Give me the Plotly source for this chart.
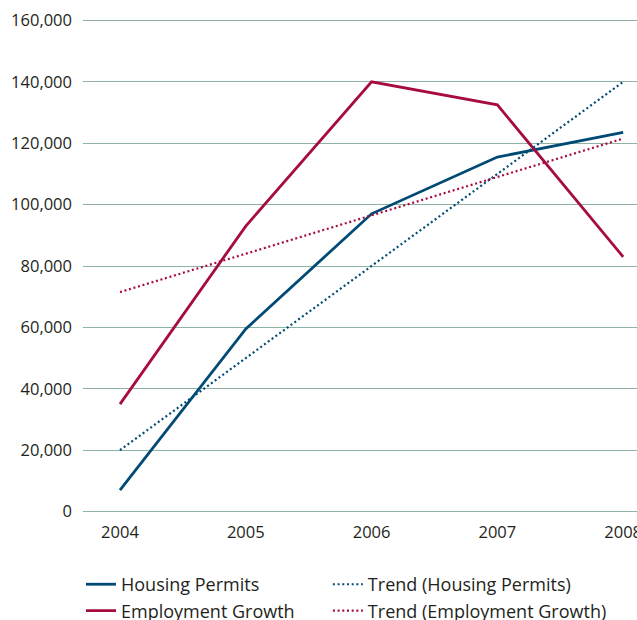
"""Housing permits vs employment growth, 2004-2008, with linear trends."""

import plotly.graph_objects as go

years = ["2004", "2005", "2006", "2007", "2008"]
housing_permits = [7000, 59500, 97000, 115500, 123500]
employment_growth = [35000, 93000, 140000, 132500, 83000]
trend_housing = [20000, 50000, 80000, 110000, 140000]
trend_employment = [71500, 84000, 96500, 109000, 121500]

BLUE = "#004A75"
RED = "#A70C3E"
GRID = "#8DB3A4"
TEXT = "#231F20"
DOTS = "2px,2.7px"

fig = go.Figure()
fig.add_trace(go.Scatter(x=years, y=housing_permits, mode="lines", name="Housing Permits",
                         line=dict(color=BLUE, width=2.8), legend="legend"))
fig.add_trace(go.Scatter(x=years, y=employment_growth, mode="lines", name="Employment Growth",
                         line=dict(color=RED, width=2.8), legend="legend"))
fig.add_trace(go.Scatter(x=years, y=trend_housing, mode="lines", name="Trend (Housing Permits)",
                         line=dict(color=BLUE, width=2.2, dash=DOTS), legend="legend2"))
fig.add_trace(go.Scatter(x=years, y=trend_employment, mode="lines", name="Trend (Employment Growth)",
                         line=dict(color=RED, width=2.2, dash=DOTS), legend="legend2"))

legend_style = dict(
    orientation="v",
    y=-0.1049,
    yanchor="top",
    xanchor="left",
    font=dict(size=18, color=TEXT),
    tracegroupgap=0,
    bgcolor="rgba(0,0,0,0)",
)

# figure is a bit taller than the window so the legend never pushes the plot;
# the extra strip below 620px is simply not on screen
fig.update_layout(
    width=637,
    height=640,
    paper_bgcolor="white",
    plot_bgcolor="white",
    margin=dict(l=83, r=0, t=18, b=126),
    font=dict(family="Open Sans, Noto Sans, sans-serif", size=16.5, color=TEXT),
    legend=dict(x=-0.0036, **legend_style),
    legend2=dict(x=0.442, **legend_style),
    showlegend=True,
)
fig.update_xaxes(
    type="category",
    range=[-0.294, 4.11],
    showgrid=False,
    showline=False,
    zeroline=False,
    ticks="",
    ticklabelstandoff=6,
    automargin=False,
)
# a little padding on the range so the 0 and 160,000 grid lines are kept
fig.update_yaxes(
    range=[-800, 160800],
    tickvals=[0, 20000, 40000, 60000, 80000, 100000, 120000, 140000, 160000],
    tickformat=",d",
    showgrid=True,
    gridcolor=GRID,
    gridwidth=1.3,
    zeroline=False,
    showline=False,
    ticks="",
    ticklabelstandoff=10,
    automargin=False,
)

fig.write_html(
    "out.html",
    config={"displayModeBar": False},
    post_script="document.body.style.margin='0';document.body.style.overflow='hidden';",
)
